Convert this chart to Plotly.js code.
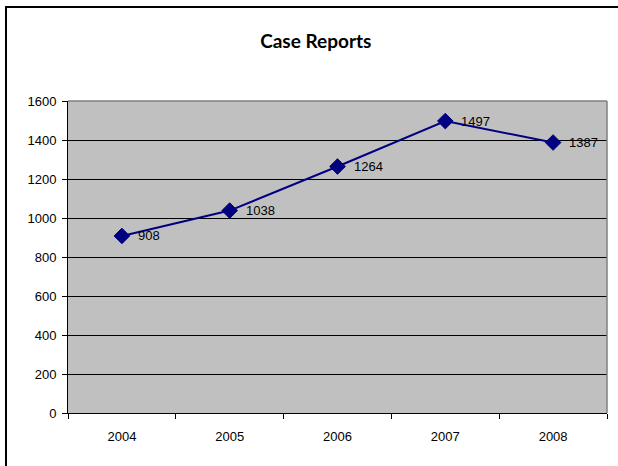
<!DOCTYPE html>
<html>
<head>
<meta charset="utf-8">
<script src="https://cdn.plot.ly/plotly-3.0.1.min.js"></script>
<style>
html,body{margin:0;padding:0;overflow:hidden;background:#fff;}
#wrap{position:relative;width:618px;height:466px;overflow:hidden;}
#frame{position:absolute;left:5px;top:6px;width:800px;height:800px;border:2px solid #000;box-sizing:border-box;pointer-events:none;z-index:2;}
#chart{position:absolute;left:0;top:0;width:618px;height:466px;}
</style>
</head>
<body>
<div id="wrap"><div id="chart"></div><div id="frame"></div></div>
<script>
const years = ['2004','2005','2006','2007','2008'];
const reports = [908, 1038, 1264, 1497, 1387];
const labels = reports.map(String);
const yTicks = [0,200,400,600,800,1000,1200,1400,1600];

const trace = {
  x: years, y: reports, type: 'scatter', mode: 'lines+markers',
  line: {color: '#000080', width: 2},
  marker: {symbol: 'diamond', size: 12, color: '#000080', line: {color: '#000080', width: 1}},
  cliponaxis: false, hoverinfo: 'none'
};
const annotations = labels.map((lab, i) => ({
  x: i, y: reports[i], xref: 'x', yref: 'y', text: lab, showarrow: false,
  xanchor: 'left', yanchor: 'middle', xshift: 14, yshift: 0,
  font: {family: 'Liberation Sans, Arial, sans-serif', size: 13, color: '#000'}
}));
const layout = {
  width: 618, height: 466,
  margin: {l: 68, r: 11, t: 101, b: 53},
  paper_bgcolor: '#fff', plot_bgcolor: '#c0c0c0',
  showlegend: false,
  title: {text: 'Case Reports', x: 0.511, xanchor: 'center', y: 0.912, yanchor: 'middle',
          font: {family: 'Lato, Carlito, sans-serif', size: 19, color: '#000', weight: 'bold'}},
  xaxis: {type: 'category', tickson: 'boundaries', ticks: 'outside', ticklen: 5, tickcolor: '#000',
          showline: true, linecolor: '#000', linewidth: 1, showgrid: false, zeroline: false,
          ticklabelstandoff: 11,
          tickfont: {family: 'Liberation Sans, Arial, sans-serif', size: 13, color: '#000'},
          range: [-0.5, 4.5]},
  yaxis: {range: [0, 1600], tickvals: yTicks, ticktext: yTicks.map(String), ticks: 'outside', ticklen: 5,
          tickcolor: '#000', showline: true, linecolor: '#000', linewidth: 1,
          showgrid: true, gridcolor: '#000', gridwidth: 1, zeroline: false,
          ticklabelstandoff: 3,
          tickfont: {family: 'Liberation Sans, Arial, sans-serif', size: 13, color: '#000'}},
  annotations: annotations,
  shapes: [
    {type: 'line', xref: 'paper', yref: 'paper', x0: 0, x1: 1, y0: 1, y1: 1, line: {color: '#808080', width: 1.5}, layer: 'above'},
    {type: 'line', xref: 'paper', yref: 'paper', x0: 1, x1: 1, y0: 0, y1: 1, line: {color: '#808080', width: 1.5}, layer: 'above'}
  ]
};
Plotly.newPlot('chart', [trace], layout, {staticPlot: true});
</script>
</body>
</html>
